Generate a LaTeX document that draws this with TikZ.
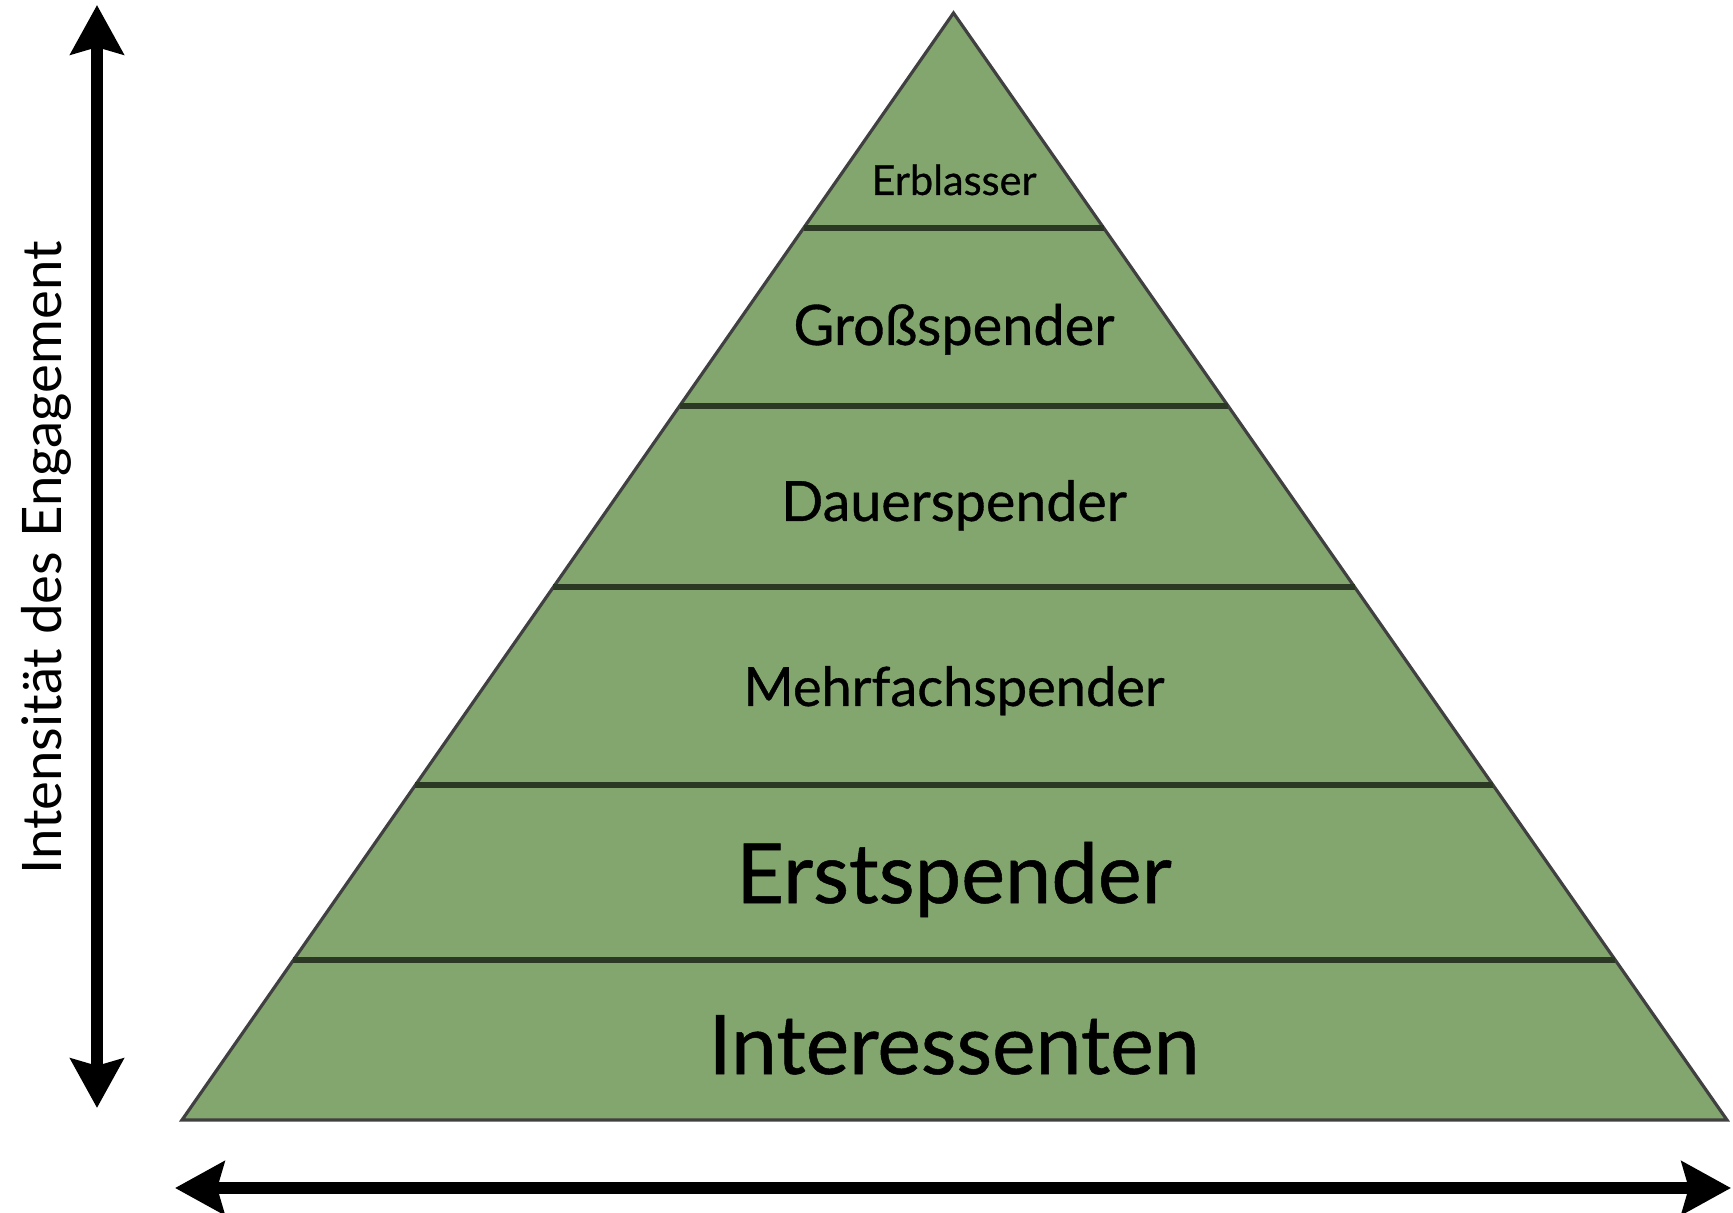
\documentclass[tikz,border=0pt]{standalone}
\usepackage{fontspec}
\setmainfont{Lato}
\newfontfamily\layerfont{Lato}[FakeBold=0.6]
\usetikzlibrary{arrows.meta,calc}

\begin{document}
\begin{tikzpicture}[x=0.01cm,y=-0.01cm]
\useasboundingbox (0,0) rectangle (1733,1213);
\definecolor{layerColor}{RGB}{131,166,111}
\definecolor{edgeColor}{RGB}{64,64,64}
\definecolor{sepColor}{RGB}{42,56,36}
\tikzset{
  bigarrow/.style={line width=3.4pt,{Stealth[length=14pt,width=15pt,inset=2pt]}-{Stealth[length=14pt,width=15pt,inset=2pt]}},
  layer/.style={anchor=base,inner sep=0pt}
}
% pyramid
\coordinate (apex) at (953.5,13);
\coordinate (bl) at (182,1120);
\coordinate (br) at (1727,1120);
\draw[color=edgeColor, fill=layerColor, line width=0.9pt] (apex) -- (bl) -- (br) -- cycle;
\foreach \f in {0.1942,0.3550,0.5185,0.6974,0.8555}
  \draw[color=sepColor, line width=1.5pt] ($(apex)!\f!(bl)$) -- ($(apex)!\f!(br)$);
% layer names, top to bottom
\foreach \n/\y/\s/\t in {erbl/195/11.8/Erblasser, gross/345/15.9/Großspender, dauer/521/15.8/Dauerspender, mehr/706/15.4/Mehrfachspender, erst/903/23.6/Erstspender, inter/1074/23.4/Interessenten}
  \node[layer,font=\layerfont\fontsize{\s}{\s}\selectfont] (\n) at (954,\y) {\t};
% axes
\coordinate (v top) at (97,5);
\coordinate (v bot) at (97,1108);
\draw[bigarrow] (v top) -- (v bot);
\coordinate (h left) at (175,1188);
\coordinate (h right) at (1731,1188);
\draw[bigarrow] (h left) -- (h right);
\node[layer,rotate=90,font=\fontsize{15.5}{15.5}\selectfont] (vlabel) at (61,558) {Intensität des Engagement};
\end{tikzpicture}
\end{document}
